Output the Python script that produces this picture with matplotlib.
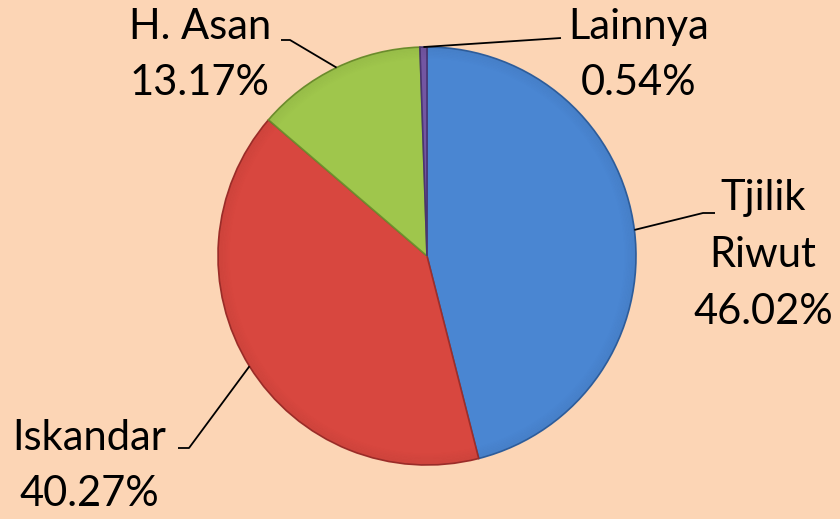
import numpy as np
import matplotlib.pyplot as plt
from matplotlib.patches import Wedge

# data
NAMES = ["Tjilik\nRiwut", "Iskandar", "H. Asan", "Lainnya"]
VALUES = [46.02, 40.27, 13.17, 0.54]
COLORS = ["#4A86D2", "#D8473F", "#9FC64C", "#7356A2"]
EDGES = ["#2F5F9E", "#9E2E2A", "#6E8F2E", "#4A3572"]

BG = "#FCD5B5"
W, H = 840, 519
CX, CY, R = 427, 519 - 256, 209

# label layout (pixel coords, y from top): text centre, elbow, line end
LAYOUT = [
    ((763, 255), (703, 213), (715, 213)),
    ((89, 466), (189, 448), (178, 448)),
    ((200, 55), (290, 40), (281, 40)),
    ((639, 55), (561, 38), (561, 38)),
]

plt.rcParams['font.family'] = ['Lato', 'DejaVu Sans']

fig = plt.figure(figsize=(8.4, 5.19), dpi=100, facecolor=BG)
ax = fig.add_axes([0, 0, 1, 1])
ax.set_facecolor(BG)

wedges, _ = ax.pie(VALUES, colors=COLORS, startangle=90, counterclock=False,
                   center=(CX, CY), radius=R, frame=True,
                   wedgeprops=dict(linewidth=1.2))
for w, ec in zip(wedges, EDGES):
    w.set_edgecolor(ec)

# soft rim shading for bevel look
for k in range(8):
    ax.add_patch(Wedge((CX, CY), R - k * 1.5, 0, 360, width=1.5,
                       facecolor='black', alpha=0.045 * (8 - k) / 8, lw=0))
ax.set_xlim(0, W)
ax.set_ylim(0, H)
ax.set_aspect('equal')
ax.axis('off')

total = sum(VALUES)
start = 90.0
for name, val, (tpos, elbow, end) in zip(NAMES, VALUES, LAYOUT):
    span = val / total * 360
    mid = np.deg2rad(start - span / 2)
    start -= span
    ex, ey = CX + R * np.cos(mid), CY + R * np.sin(mid)
    xs = [ex, elbow[0], end[0]]
    ys = [ey, H - elbow[1], H - end[1]]
    ax.plot(xs, ys, color='black', lw=1.3, solid_capstyle='butt')
    ax.text(tpos[0], H - tpos[1], f"{name}\n{val:.2f}%", ha='center', va='center',
            multialignment='center', fontsize=30, linespacing=1.6, color='black')

fig.savefig("out.png", dpi=100, facecolor=BG)
